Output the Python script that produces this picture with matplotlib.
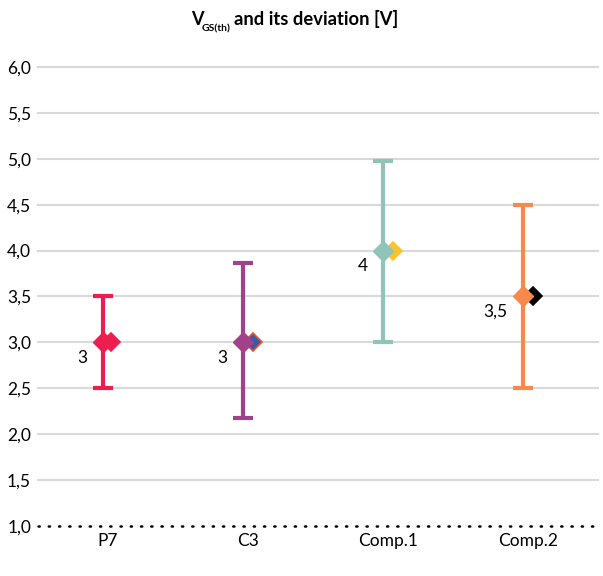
import matplotlib
matplotlib.use('Agg')
import matplotlib.pyplot as plt
import numpy as np

plt.rcParams['font.family'] = ['Lato', 'DejaVu Sans']

# data
categories = ['P7', 'C3', 'Comp.1', 'Comp.2']
vgs = [3.0, 3.0, 4.0, 3.5]
vgs_low = [2.5, 2.18, 3.0, 2.5]
vgs_high = [3.5, 3.87, 4.98, 4.5]
vgs_second = [3.0, 3.0, 4.0, 3.5]
labels = ['3', '3', '4', '3,5']
yticks = [1.0, 1.5, 2.0, 2.5, 3.0, 3.5, 4.0, 4.5, 5.0, 5.5, 6.0]

main_colors = ['#EE1D4F', '#A1418C', '#90C4B9', '#F78A4B']
second_face = ['#EE1D4F', '#3D5AA6', '#F7C531', '#000000']
second_edge = ['#EE1D4F', '#F0502A', '#F7C531', '#000000']

fig = plt.figure(figsize=(6.03, 5.76), dpi=100)
ax = fig.add_axes([38/603, 1-526/576, 560/603, (526-67)/576])

x = np.arange(len(categories))
off = 0.036

for yv in yticks[1:]:
    ax.axhline(yv, color='#D9D9D9', lw=1.5, zorder=0, clip_on=False)
# dotted base line at 1,0
ax.axhline(1.0, color='black', lw=1.8, ls=(0, (0.5, 3.6)), dash_capstyle='round', zorder=1, clip_on=False)

for i in range(len(categories)):
    ax.plot(x[i] + off * (0.6 if i == 0 else 1), vgs_second[i], marker='D', ms=9.5, mfc=second_face[i],
            mec=second_edge[i], mew=1.2, ls='none', zorder=2)
    ax.errorbar(x[i] - off, vgs[i],
                yerr=[[vgs[i] - vgs_low[i]], [vgs_high[i] - vgs[i]]],
                fmt='D', ms=10, color=main_colors[i], ecolor=main_colors[i],
                elinewidth=3, capsize=7, capthick=3, zorder=3)
    ax.annotate(labels[i], (x[i] - off, vgs[i]), xytext=(-11, -11),
                textcoords='offset points', ha='right', va='center', fontsize=12.5)

ax.set_xlim(-0.5, 3.5)
ax.set_ylim(1.0, 6.0)
ax.set_yticks(yticks)
ax.set_yticklabels([('%.1f' % v).replace('.', ',') for v in yticks], fontsize=12.5)
ax.set_xticks(x)
ax.set_xticklabels(categories, fontsize=12.5)
ax.tick_params(length=0, pad=5)
for s in ax.spines.values():
    s.set_visible(False)

fig.text(191/603, 1-25/576, 'V', fontsize=13, fontweight='bold', ha='left', va='baseline')
fig.text(202/603, 1-31/576, 'GS(th)', fontsize=7.5, fontweight='bold', ha='left', va='baseline')
fig.text(234/603, 1-25/576, 'and its deviation [V]', fontsize=13.2, fontweight='bold', ha='left', va='baseline')

fig.savefig('out.png', dpi=100)
